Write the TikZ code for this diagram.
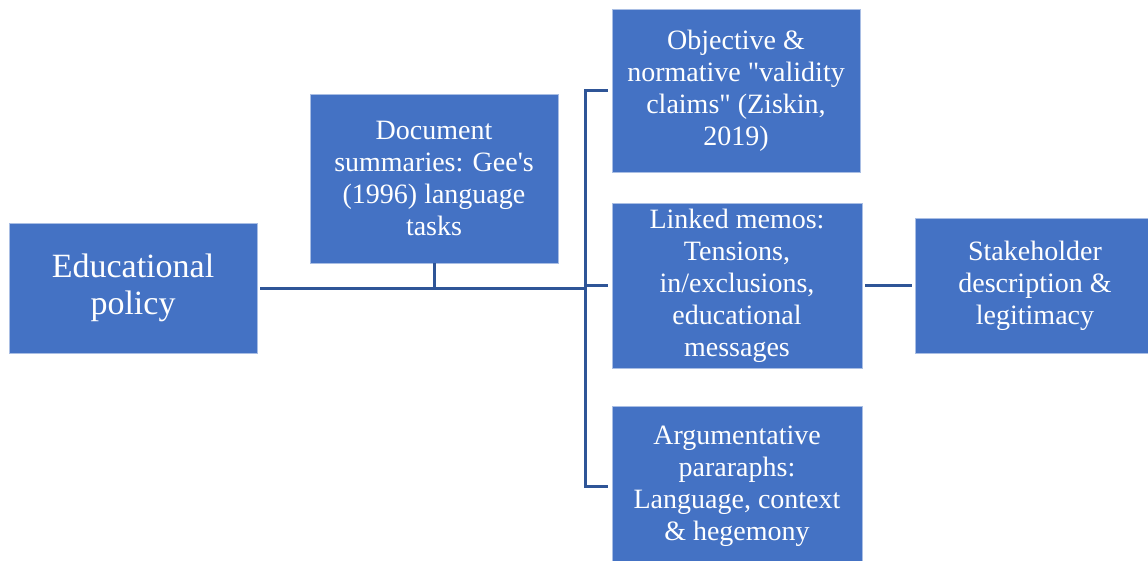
\documentclass[tikz,border=0pt]{standalone}
\usepackage{fontspec}
\setmainfont{Liberation Serif}[Ligatures=TeXOff]
\definecolor{boxblue}{HTML}{4472C4}
\definecolor{linkblue}{HTML}{2F5597}
\definecolor{edgeblue}{HTML}{A9BEE4}
\begin{document}
\begin{tikzpicture}[x=1pt,y=-1pt,
  box/.style={draw=edgeblue, line width=0.8pt, fill=boxblue, text=white, align=center, inner sep=0pt,
    font=\fontsize{28}{32}\selectfont},
  conn/.style={draw=linkblue, line width=3pt}]
\useasboundingbox (0,0) rectangle (1148,560);
\node[box, minimum width=248, minimum height=130, font=\fontsize{34}{37}\selectfont] (pol) at (133,288) {Educational\\policy};
\node[box, minimum width=248, minimum height=169] (doc) at (434,178.5) {Document\\summaries: Gee's\\(1996) language\\tasks};
\node[box, minimum width=248, minimum height=163] (obj) at (736,90.5) {Objective \&\\normative "validity\\claims" (Ziskin,\\2019)};
\node[box, minimum width=250, minimum height=165] (memo) at (737,285.5) {Linked memos:\\Tensions,\\in/exclusions,\\educational\\messages};
\node[box, minimum width=250, minimum height=160] (arg) at (737,486) {Argumentative\\pararaphs:\\Language, context\\\& hegemony};
\node[box, minimum width=240, minimum height=135] (stake) at (1035,285.5) {Stakeholder\\description \&\\legitimacy};
\coordinate (bx) at (585,0);
\draw[conn] ([xshift=3]pol.east) -- (pol.east -| bx);
\draw[conn] (doc.south) -- (doc.south |- pol.east);
\draw[conn] ([xshift=-4]obj.west) -| (bx |- arg.west) -- ([xshift=-4]arg.west);
\draw[conn] (bx |- memo.west) -- ([xshift=-4]memo.west);
\draw[conn] ([xshift=3]memo.east) -- ([xshift=-3]stake.west);
\end{tikzpicture}
\end{document}
